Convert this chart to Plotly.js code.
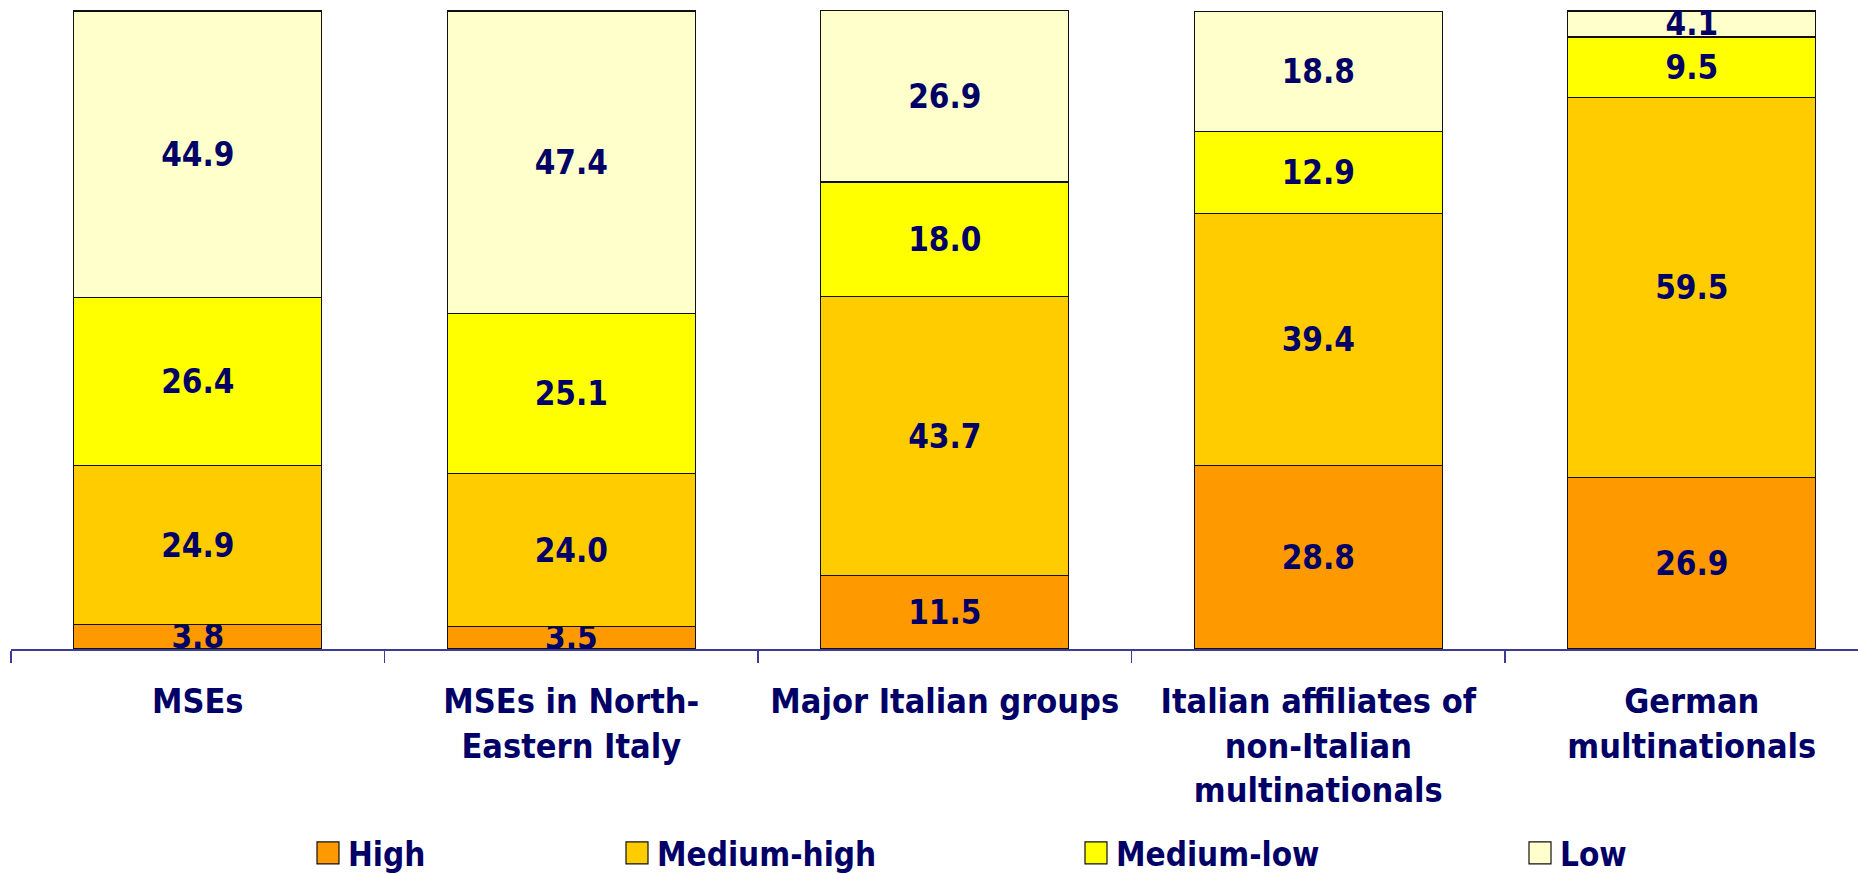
<!DOCTYPE html>
<html>
<head>
<meta charset="utf-8">
<script src="https://cdn.plot.ly/plotly-3.0.1.min.js"></script>
<style>
  html, body { margin: 0; padding: 0; background: #ffffff; }
  #chart { width: 1858px; height: 875px; }
</style>
</head>
<body>
<div id="chart"></div>
<script>
// ---- Data ----
const categories = [
  "MSEs",
  "MSEs in North-<br>Eastern Italy",
  "Major Italian groups",
  "Italian affiliates of<br>non-Italian<br>multinationals",
  "German<br>multinationals"
];
const seriesNames = ["High", "Medium-high", "Medium-low", "Low"];
const high       = [3.8, 3.5, 11.5, 28.8, 26.9];
const mediumHigh = [24.9, 24.0, 43.7, 39.4, 59.5];
const mediumLow  = [26.4, 25.1, 18.0, 12.9, 9.5];
const low        = [44.9, 47.4, 26.9, 18.8, 4.1];

const seriesValues = [high, mediumHigh, mediumLow, low];
const seriesColors = ["#FF9900", "#FFCC00", "#FFFF00", "#FFFFCC"];
const legendIds = ["legend", "legend2", "legend3", "legend4"];
const legendXpx = [308, 617, 1076, 1520];

const FONT = "DejaVu Sans Condensed, DejaVu Sans, sans-serif";
const NAVY = "#000066";
const W = 1858, H = 875;

const traces = seriesValues.map((vals, i) => ({
  type: "bar",
  name: seriesNames[i],
  x: categories,
  y: vals,
  legend: legendIds[i],
  marker: { color: seriesColors[i], line: { color: "#111111", width: 1.2 } },
  texttemplate: "%{y:.1f}",
  textposition: "inside",
  insidetextanchor: "middle",
  textangle: 0,
  constraintext: "none",
  textfont: { family: FONT, size: 33, color: NAVY, weight: "bold" },
  hoverinfo: "x+y+name"
}));

const legendBase = {
  orientation: "h",
  xref: "container",
  yref: "container",
  xanchor: "left",
  yanchor: "middle",
  y: 1 - 853 / H,
  bgcolor: "rgba(0,0,0,0)",
  borderwidth: 0,
  font: { family: FONT, size: 33, color: NAVY, weight: "bold" }
};

const layout = {
  width: W,
  height: H,
  margin: { l: 11, r: 0, t: 9, b: 226, autoexpand: false },
  paper_bgcolor: "#ffffff",
  plot_bgcolor: "#ffffff",
  barmode: "stack",
  bargap: 0.336,
  showlegend: true,
  xaxis: {
    type: "category",
    range: [-0.5, 4.445],
    showline: true,
    linecolor: "#3c3c96",
    linewidth: 1.5,
    ticks: "outside",
    tickson: "boundaries",
    ticklen: 12,
    tickcolor: "#3c3c96",
    tickwidth: 1.5,
    showgrid: false,
    zeroline: false,
    tickangle: 0,
    ticklabelstandoff: 22,
    tickfont: { family: FONT, size: 34, color: NAVY, weight: "bold" },
    fixedrange: true
  },
  yaxis: {
    range: [0, 100.3],
    visible: false,
    showgrid: false,
    zeroline: false,
    fixedrange: true
  }
};
legendIds.forEach((id, i) => {
  layout[id] = Object.assign({}, legendBase, { x: legendXpx[i] / W });
});

Plotly.newPlot("chart", traces, layout, { displayModeBar: false, staticPlot: true }).then(() => {
  // enlarge legend swatches to match the reference
  document.querySelectorAll(".legendpoints path").forEach(p => {
    p.setAttribute("d", "M11,11H-11V-11H11Z");
  });
});
</script>
</body>
</html>
